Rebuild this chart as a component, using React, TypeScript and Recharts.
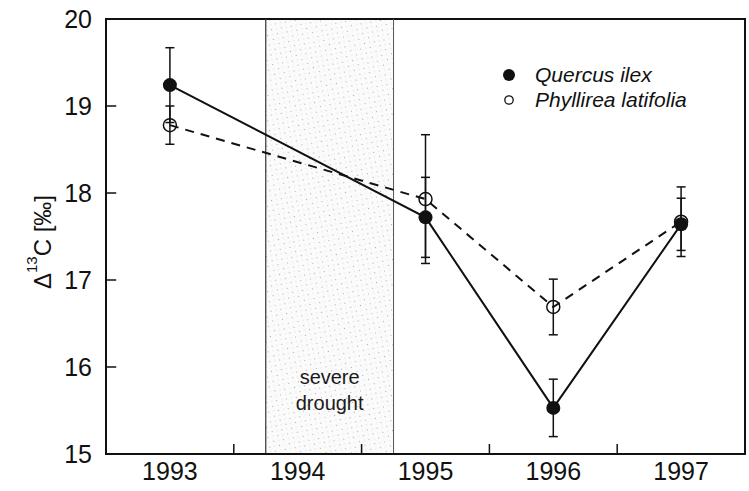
import {
  LineChart,
  Line,
  XAxis,
  YAxis,
  ErrorBar,
  ReferenceArea,
  ReferenceLine,
  Label,
} from 'recharts';

const years = [1993, 1995, 1996, 1997];
const quercus = [19.24, 17.72, 15.53, 17.64];
const quercusErr = [0.43, 0.46, 0.33, 0.3];
const phyllirea = [18.78, 17.93, 16.69, 17.67];
const phyllireaErr = [0.22, 0.74, 0.32, 0.4];

const xTicks = [1993, 1994, 1995, 1996, 1997];
const xMinorTicks = [1993.5, 1994.5, 1995.5, 1996.5];
const yTicks = [15, 16, 17, 18, 19, 20];
const yInnerTicks = [16, 17, 18, 19];
const drought = [1993.75, 1994.75];

const X_DOMAIN: [number, number] = [1992.5, 1997.5];
const Y_DOMAIN: [number, number] = [15, 20];

const FONT = '"Liberation Sans", Arial, sans-serif';
const INK = '#111';

const data = years.map((year, i) => ({
  year,
  q: quercus[i],
  qErr: quercusErr[i],
  p: phyllirea[i],
  pErr: phyllireaErr[i],
}));

// legend sits inside the plot, top right — drawn as an overlay so it takes no layout space
function LegendBox() {
  const rows = [
    { label: 'Quercus ilex', filled: true },
    { label: 'Phyllirea latifolia', filled: false },
  ];
  return (
    <div
      style={{
        position: 'absolute',
        left: 500,
        top: 62,
        fontFamily: FONT,
        fontStyle: 'italic',
        fontSize: 21,
        color: INK,
      }}
    >
      {rows.map((r) => (
        <div key={r.label} style={{ display: 'flex', alignItems: 'center', height: 25 }}>
          <svg width={35} height={16}>
            {r.filled ? (
              <circle cx={9} cy={8} r={6} fill={INK} />
            ) : (
              <circle cx={9} cy={8} r={4.2} fill="none" stroke={INK} strokeWidth={1.3} />
            )}
          </svg>
          <span>{r.label}</span>
        </div>
      ))}
    </div>
  );
}

function YLabel(props: any) {
  const vb = props.viewBox || {};
  const cx = (vb.x ?? 0) + 42;
  const cy = 242;
  return (
    <text
      x={cx}
      y={cy}
      transform={`rotate(-90 ${cx} ${cy})`}
      textAnchor="middle"
      dominantBaseline="central"
      fontFamily={FONT}
      fontSize={24}
      fill={INK}
    >
      Δ
      <tspan fontSize={15} dy={-11}>
        13
      </tspan>
      <tspan dy={11}>C [‰]</tspan>
    </text>
  );
}

function DroughtLabel(props: any) {
  const vb = props.viewBox || {};
  const cx = vb.x + vb.width / 2;
  const cy = vb.y + vb.height * 0.85;
  return (
    <text textAnchor="middle" fontFamily={FONT} fontSize={20} fill="#1a1a1a">
      <tspan x={cx} y={cy - 5}>
        severe
      </tspan>
      <tspan x={cx} y={cy + 21}>
        drought
      </tspan>
    </text>
  );
}

const dotFilled = (props: any) => (
  <circle key={`q-${props.index}`} cx={props.cx} cy={props.cy} r={7} fill={INK} />
);
const dotOpen = (props: any) => (
  <circle
    key={`p-${props.index}`}
    cx={props.cx}
    cy={props.cy}
    r={6.5}
    fill="#fff"
    fillOpacity={0}
    stroke={INK}
    strokeWidth={1.5}
  />
);

export default function App() {
  return (
    <div style={{ position: 'absolute', left: 0, top: 0, width: 749, height: 491, background: '#fff' }}>
      <LineChart
        width={749}
        height={491}
        data={data}
        margin={{ top: 19, right: 4, bottom: 0, left: 0 }}
      >
        <defs>
          <pattern id="stipple" width="7" height="7" patternUnits="userSpaceOnUse" patternTransform="rotate(35)">
            <rect width="7" height="7" fill="#fbfbfb" />
            <circle cx="1.5" cy="1.5" r="0.6" fill="#a0a0a0" />
            <circle cx="5" cy="4.8" r="0.5" fill="#cdcdcd" />
          </pattern>
        </defs>
        <XAxis
          dataKey="year"
          type="number"
          domain={X_DOMAIN}
          ticks={xTicks}
          allowDataOverflow
          height={37}
          axisLine={{ stroke: INK, strokeWidth: 2 }}
          tickLine={false}
          tickSize={0}
          tickMargin={8}
          tick={{ fill: INK, fontSize: 25, fontFamily: FONT }}
        />
        <YAxis
          type="number"
          domain={Y_DOMAIN}
          ticks={yTicks}
          allowDataOverflow
          width={106}
          axisLine={{ stroke: INK, strokeWidth: 2 }}
          tickLine={false}
          tickSize={0}
          tickMargin={14}
          tick={{ fill: INK, fontSize: 25, fontFamily: FONT }}
        >
          <Label content={<YLabel />} />
        </YAxis>

        <ReferenceArea
          x1={drought[0]}
          x2={drought[1]}
          y1={Y_DOMAIN[0]}
          y2={Y_DOMAIN[1]}
          fill="url(#stipple)"
          fillOpacity={1}
          stroke="none"
          label={<DroughtLabel />}
        />
        <ReferenceLine x={drought[0]} stroke="#333" strokeWidth={1.2} />
        <ReferenceLine x={drought[1]} stroke="#555" strokeWidth={1} />

        <ReferenceArea
          x1={X_DOMAIN[0]}
          x2={X_DOMAIN[1]}
          y1={Y_DOMAIN[0]}
          y2={Y_DOMAIN[1]}
          fill="none"
          stroke={INK}
          strokeWidth={2}
          ifOverflow="visible"
        />

        {yInnerTicks.map((v) => (
          <ReferenceLine
            key={`yt-${v}`}
            segment={[
              { x: X_DOMAIN[0], y: v },
              { x: X_DOMAIN[0] + 0.08, y: v },
            ]}
            stroke={INK}
            strokeWidth={1.5}
            ifOverflow="visible"
          />
        ))}
        {xMinorTicks.map((v) => (
          <ReferenceLine
            key={`xt-${v}`}
            segment={[
              { x: v, y: Y_DOMAIN[0] },
              { x: v, y: Y_DOMAIN[0] + 0.115 },
            ]}
            stroke={INK}
            strokeWidth={1.5}
            ifOverflow="visible"
          />
        ))}

        <Line
          dataKey="p"
          name="Phyllirea latifolia"
          stroke={INK}
          strokeWidth={2}
          strokeDasharray="9 7"
          dot={dotOpen}
          activeDot={false}
          isAnimationActive={false}
        >
          <ErrorBar dataKey="pErr" direction="y" width={4.5} stroke={INK} strokeWidth={1.5} />
        </Line>
        <Line
          dataKey="q"
          name="Quercus ilex"
          stroke={INK}
          strokeWidth={2}
          dot={dotFilled}
          activeDot={false}
          isAnimationActive={false}
        >
          <ErrorBar dataKey="qErr" direction="y" width={4.5} stroke={INK} strokeWidth={1.5} />
        </Line>
      </LineChart>
      <LegendBox />
    </div>
  );
}
